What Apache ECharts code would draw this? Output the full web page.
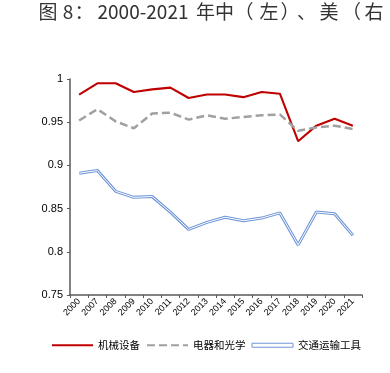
<!DOCTYPE html>
<html>
<head>
<meta charset="utf-8">
<script src="https://cdn.jsdelivr.net/npm/echarts@6/dist/echarts.min.js"></script>
<style>
html,body{margin:0;padding:0;background:#fff;}
#c{width:390px;height:373px;}
</style>
</head>
<body>
<div id="c"></div>
<script>
const titleParts = ['图','8','：','2000-2021','年','中','（','左','）','、','美','（','右'];
const years = ['2000','2007','2008','2009','2010','2011','2012','2013','2014','2015','2016','2017','2018','2019','2020','2021'];
const machinery = [0.982,0.995,0.995,0.985,0.988,0.990,0.978,0.982,0.982,0.979,0.985,0.983,0.928,0.946,0.954,0.946];
const electrical = [0.952,0.965,0.951,0.943,0.960,0.961,0.953,0.958,0.954,0.956,0.958,0.959,0.940,0.944,0.946,0.942];
const transport = [0.891,0.894,0.870,0.863,0.864,0.846,0.826,0.834,0.840,0.836,0.839,0.845,0.808,0.846,0.844,0.819];
const seriesNames = ['机械设备','电器和光学','交通运输工具'];
const yTicks = {min:0.75, max:1, step:0.05};

// title layout: box width and alignment per part
const titleBoxes = [[20,'center'],[20,'center'],[12,'center'],[106,'center'],[19,'center'],[19,'center'],[20,'right'],[30,'center'],[12,'left'],[21,'center'],[24,'center'],[21,'right'],[24,'center']];
const rich = {};
let titleStr = '';
titleParts.forEach((t,i)=>{
  const k = 's'+i;
  rich[k] = {width:titleBoxes[i][0], align:titleBoxes[i][1], fontSize:19, fontFamily:'Noto Sans CJK SC', color:'#333', lineHeight:22};
  titleStr += '{'+k+'|'+t+'}';
});

const chart = echarts.init(document.getElementById('c'));
const blue = '#6f95d8';
chart.setOption({
  animation:false,
  backgroundColor:'#fff',
  title:{text:titleStr,left:38,top:1,padding:0,textStyle:{rich:rich,fontSize:19,fontWeight:'normal',color:'#333'}},
  grid:{left:70,right:28,top:79,bottom:78},
  legend:{
    left:46, top:335, itemWidth:41, itemHeight:4, itemGap:6,
    textStyle:{fontFamily:'Noto Sans CJK SC',fontSize:10.5,color:'#000'},
    data:[
      {name:seriesNames[0], itemStyle:{opacity:0}},
      {name:seriesNames[1], itemStyle:{opacity:0}},
      {name:seriesNames[2], icon:'rect', itemStyle:{color:'#fff',borderColor:blue,borderWidth:1}}
    ]
  },
  xAxis:{
    type:'category', data:years, boundaryGap:true,
    axisLine:{lineStyle:{color:'#595959',width:1.5}},
    axisTick:{show:true,length:3,alignWithLabel:false,lineStyle:{color:'#595959'}},
    axisLabel:{rotate:45,fontSize:9,fontFamily:'Liberation Sans',color:'#000',margin:5,interval:0},
    splitLine:{show:false}
  },
  yAxis:{
    type:'value', min:yTicks.min, max:yTicks.max, interval:yTicks.step,
    axisLine:{show:true,lineStyle:{color:'#595959',width:1.5}},
    axisTick:{show:true,length:3,lineStyle:{color:'#595959'}},
    axisLabel:{fontSize:11,fontFamily:'Liberation Sans',color:'#000',margin:7},
    splitLine:{show:false}
  },
  series:[
    {name:seriesNames[0],type:'line',data:machinery,symbol:'none',lineStyle:{color:'#c00000',width:2.1},itemStyle:{color:'#c00000'}},
    {name:seriesNames[1],type:'line',data:electrical,symbol:'none',lineStyle:{color:'#a0a0a0',width:2.5,type:[8,4]},itemStyle:{color:'#a0a0a0'}},
    {name:seriesNames[2],type:'line',data:transport,symbol:'none',lineStyle:{color:blue,width:3},itemStyle:{color:blue}},
    {name:'_inner',type:'line',data:transport,symbol:'none',lineStyle:{color:'#fff',width:1},silent:true}
  ]
});
</script>
</body>
</html>
